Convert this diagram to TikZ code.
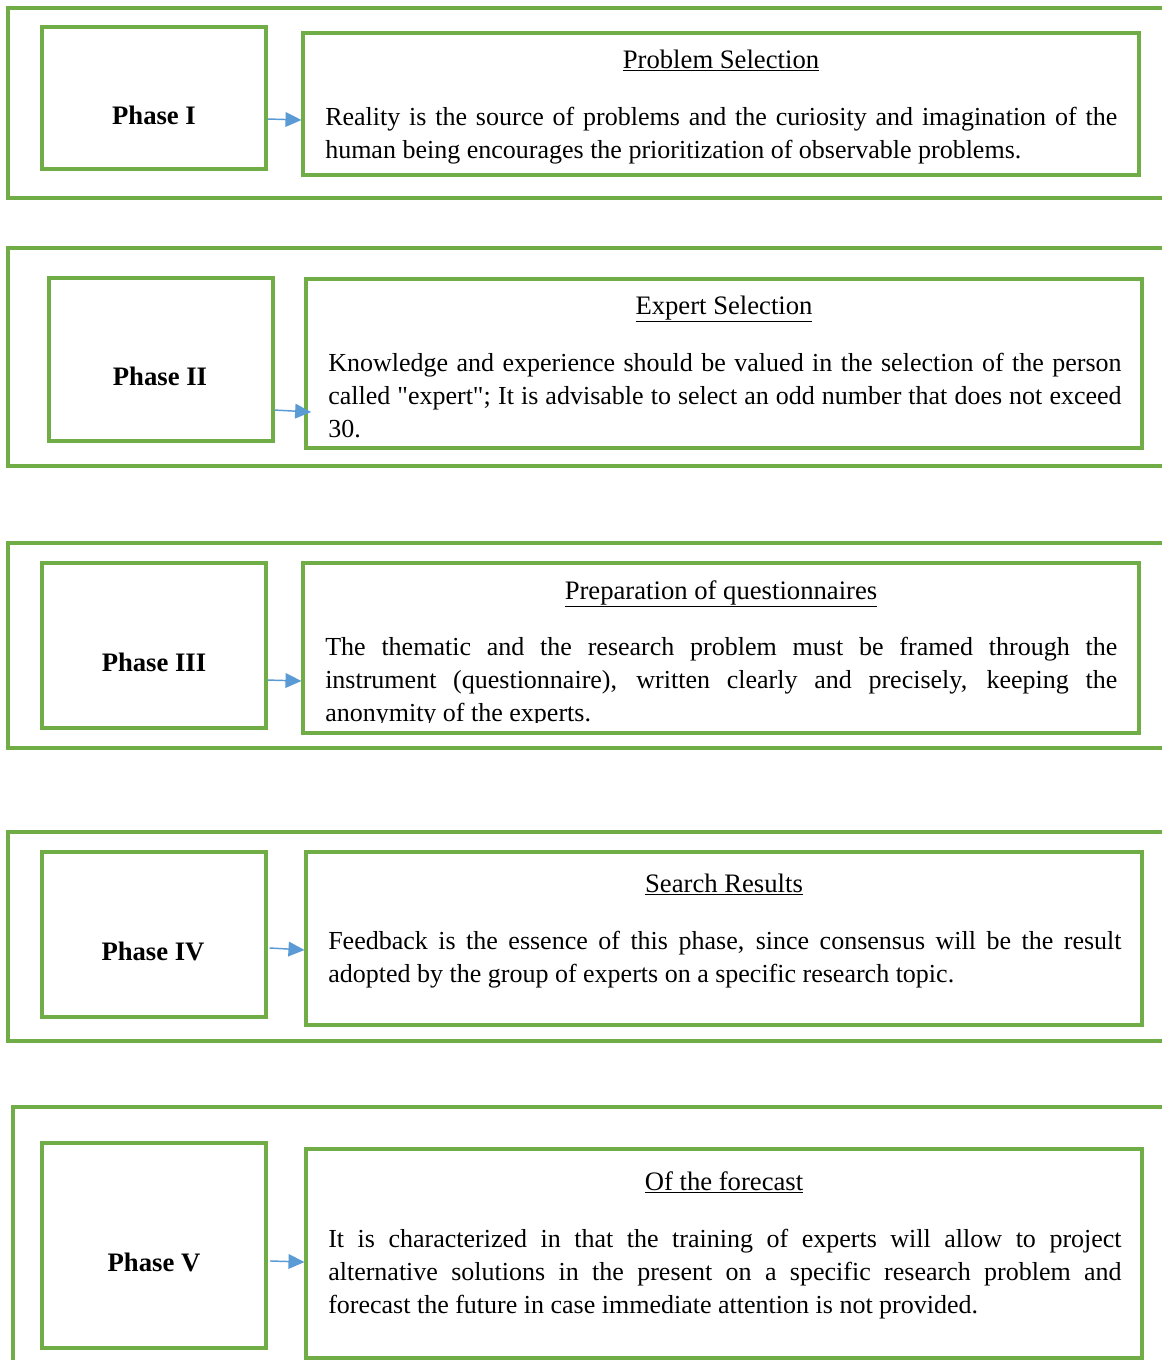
\documentclass[tikz,border=0pt]{standalone}
\usepackage{fontspec}
\setmainfont{Liberation Serif}[Ligatures=TeXOff]
\usetikzlibrary{fit,arrows.meta}
\definecolor{grn}{HTML}{70AD47}
\definecolor{blu}{HTML}{5B9BD5}
\newcommand{\jusline}[2]{\hbox to #1{\spaceskip=0.25em plus 1fil minus 0.1em\relax #2}}
\newcommand{\lastline}[1]{\hbox{#1}}
\newcommand{\bodylines}[1]{\vtop{\baselineskip=24.75pt\lineskiplimit=-10pt #1}}
\begin{document}
\begin{tikzpicture}[x=0.75pt,y=-0.75pt,
  box/.style={draw=grn,line width=2.3pt,inner sep=0pt,rectangle},
  phaselbl/.style={inner sep=0pt,anchor=center,font=\fontsize{20}{24.75}\selectfont\bfseries},
  ttl/.style={inner sep=0pt,anchor=base,font=\fontsize{20}{24.75}\selectfont},
  body/.style={inner sep=0pt,anchor=base west,font=\fontsize{19.5}{24.75}\selectfont},
  arr/.style={draw=blu,line width=1.1pt,-{Triangle[length=12pt,width=11pt]}}]
\useasboundingbox (0,0) rectangle (1162,1360);
\clip (0,0) rectangle (1162,1360);
\fill[white] (0,0) rectangle (1162,1360);

% ---------- Phase I ----------
\node[box,fit={(8,8)(1180,198)}] (o1) {};
\node[box,fit={(42,27)(266,169)}] (p1) {};
\node[phaselbl] (l1) at (154,115) {Phase I};
\node[box,fit={(303,33)(1139,175)}] (c1) {};
\node[ttl] (t1) at (721,68) {\underline{Problem Selection}};
\node[body] (b1) at (325,125) {\bodylines{%
\jusline{594pt}{Reality is the source of problems and the curiosity and imagination of the}
\lastline{human being encourages the prioritization of observable problems.}}};
\draw[arr] ([yshift=-15.75pt]p1.east) -- ([yshift=-12pt]c1.west);

% ---------- Phase II ----------
\node[box,fit={(8,248)(1180,466)}] (o2) {};
\node[box,fit={(49,278)(273,441)}] (p2) {};
\node[phaselbl] (l2) at (160,376) {Phase II};
\node[box,fit={(306,279)(1142,448)}] (c2) {};
\node[ttl] (t2) at (724,314) {\underline{Expert Selection}};
\node[body] (b2) at (328,371) {\bodylines{%
\jusline{595pt}{Knowledge and experience should be valued in the selection of the person}
\jusline{595pt}{called "expert"; It is advisable to select an odd number that does not exceed}
\lastline{30.}}};
\draw[arr] ([yshift=-37.9pt]p2.east) -- ([xshift=5pt,yshift=-36.4pt]c2.west);

% ---------- Phase III ----------
\node[box,fit={(8,543)(1180,748)}] (o3) {};
\node[box,fit={(42,563)(266,728)}] (p3) {};
\node[phaselbl] (l3) at (154,662) {Phase III};
\node[box,fit={(303,563)(1139,733)}] (c3) {};
\node[ttl] (t3) at (721,599) {\underline{Preparation of questionnaires}};
\begin{scope}
\clip (303,563) rectangle (1139,722);
\node[body] (b3) at (325,655) {\bodylines{%
\jusline{594pt}{The thematic and the research problem must be framed through the}
\jusline{594pt}{instrument (questionnaire), written clearly and precisely, keeping the}
\lastline{anonymity of the experts.}}};
\end{scope}
\draw[arr] ([yshift=-25.9pt]p3.east) -- ([yshift=-24.75pt]c3.west);

% ---------- Phase IV ----------
\node[box,fit={(8,832)(1180,1041)}] (o4) {};
\node[box,fit={(42,852)(266,1017)}] (p4) {};
\node[phaselbl] (l4) at (153,951) {Phase IV};
\node[box,fit={(306,852)(1142,1025)}] (c4) {};
\node[ttl] (t4) at (724,892) {\underline{Search Results}};
\node[body] (b4) at (328,949) {\bodylines{%
\jusline{595pt}{Feedback is the essence of this phase, since consensus will be the result}
\lastline{adopted by the group of experts on a specific research topic.}}};
\draw[arr] ([xshift=1.5pt,yshift=-10.1pt]p4.east) -- ([yshift=-8.6pt]c4.west);

% ---------- Phase V ----------
\node[box,fit={(13,1107)(1180,1390)}] (o5) {};
\node[box,fit={(42,1143)(266,1348)}] (p5) {};
\node[phaselbl] (l5) at (154,1262) {Phase V};
\node[box,fit={(306,1149)(1142,1358)}] (c5) {};
\node[ttl] (t5) at (724,1190) {\underline{Of the forecast}};
\node[body] (b5) at (328,1247) {\bodylines{%
\jusline{595pt}{It is characterized in that the training of experts will allow to project}
\jusline{595pt}{alternative solutions in the present on a specific research problem and}
\lastline{forecast the future in case immediate attention is not provided.}}};
\draw[arr] ([xshift=2pt,yshift=-11.6pt]p5.east) -- ([yshift=-6.4pt]c5.west);
\end{tikzpicture}
\end{document}
